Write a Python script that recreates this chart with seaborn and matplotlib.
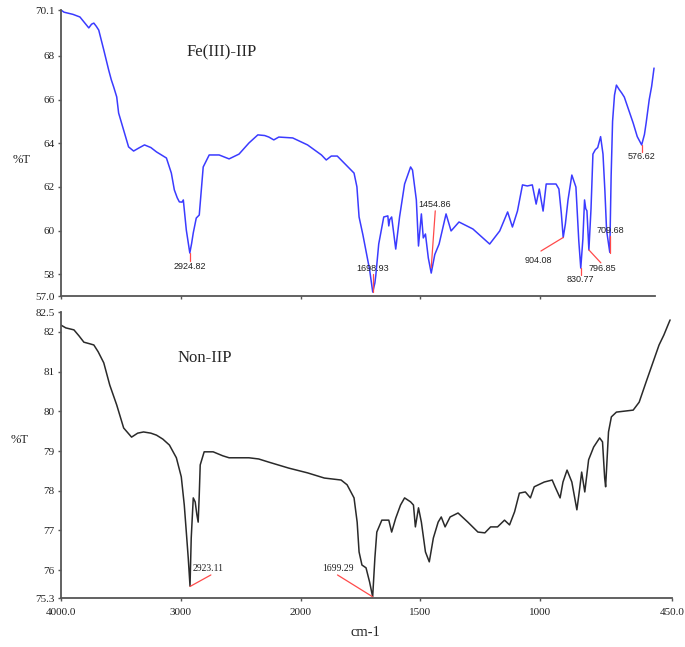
import numpy as np
import pandas as pd
import seaborn as sns
import matplotlib.pyplot as plt

# Fe(III)-IIP spectrum (wavenumber cm-1, %T)
top_wn = [4000, 3975, 3900, 3842, 3800, 3768, 3745, 3726, 3705, 3685, 3643, 3602, 3580, 3560,
          3535, 3519, 3477, 3436, 3394, 3350, 3303, 3250, 3203, 3120, 3079, 3054, 3030, 3012,
          2990, 2979, 2954, 2940, 2924.82, 2910, 2896, 2871, 2846, 2830, 2813, 2763, 2680, 2597,
          2514, 2431, 2357, 2300, 2265, 2224, 2182, 2066, 1971, 1913, 1893, 1872, 1847, 1810,
          1777, 1765, 1756, 1740, 1727, 1712, 1698.93, 1690, 1686, 1674, 1653, 1636, 1632, 1628,
          1620, 1603, 1587, 1566, 1541, 1533, 1517, 1508, 1496, 1488, 1479, 1467, 1454.86, 1440,
          1422, 1393, 1372, 1339, 1281, 1211, 1169, 1136, 1116, 1095, 1074, 1054, 1033, 1017,
          1004, 988, 975, 934, 922, 912, 904.08, 895, 884, 868, 851, 839, 830.77, 822, 815, 810,
          805, 796.85, 788, 780, 770, 760, 748, 738, 730, 723, 709.68, 704, 698, 690, 682, 670,
          660, 649, 630, 612, 595, 576.62, 565, 558, 545, 535, 525]
top_t = [70.1, 70.0, 69.9, 69.78, 69.5, 69.28, 69.45, 69.5, 69.35, 69.18, 68.27, 67.35, 66.9, 66.57,
         66.12, 65.38, 64.6, 63.83, 63.64, 63.78, 63.92, 63.8, 63.6, 63.32, 62.63, 61.86, 61.5, 61.31,
         61.3, 61.4, 60.02, 59.5, 58.97, 59.4, 59.89, 60.57, 60.71, 61.8, 62.91, 63.46, 63.46, 63.28,
         63.5, 64.01, 64.38, 64.35, 64.28, 64.15, 64.28, 64.24, 63.92, 63.46, 63.23, 63.41, 63.41, 63.0,
         62.63, 62.0, 60.62, 59.8, 59.06, 58.2, 57.18, 57.6, 57.96, 59.38, 60.62, 60.67, 60.21, 60.5,
         60.62, 59.15, 60.62, 62.13, 62.91, 62.77, 61.4, 59.29, 60.76, 59.66, 59.84, 58.74, 58.05, 58.9,
         59.38, 60.76, 59.98, 60.39, 60.07, 59.38, 59.98, 60.85, 60.16, 60.89, 62.09, 62.04, 62.09, 61.21,
         61.9, 60.89, 62.13, 62.13, 61.9, 60.8, 59.68, 60.3, 61.4, 62.54, 61.99, 59.52, 58.28, 59.6, 61.4, 61.0,
         60.9, 59.11, 61.0, 63.5, 63.7, 63.8, 64.3, 63.5, 61.8, 60.0, 59.0, 62.5, 65.0, 66.2, 66.66, 66.45,
         66.3, 66.11, 65.5, 64.92, 64.3, 63.92, 64.4, 64.92, 66.0, 66.6, 67.44]

# Non-IIP spectrum
bot_wn = [4000, 3960, 3892, 3850, 3809, 3760, 3726, 3690, 3643, 3593, 3535, 3477, 3411, 3360,
          3311, 3250, 3203, 3150, 3095, 3037, 2996, 2971, 2955, 2938, 2923.11, 2913, 2896, 2880,
          2866, 2855, 2846, 2838, 2805, 2730, 2650, 2597, 2431, 2350, 2265, 2099, 1971, 1901,
          1831, 1806, 1777, 1764, 1756, 1744, 1727, 1712, 1699.29, 1690, 1682, 1661, 1632, 1620,
          1603, 1583, 1566, 1541, 1529, 1521, 1508, 1496, 1479, 1463, 1446, 1426, 1413, 1397,
          1376, 1343, 1302, 1260, 1231, 1207, 1178, 1149, 1128, 1107, 1087, 1062, 1041, 1025,
          983, 950, 938, 917, 905, 888, 868, 847, 835, 827, 814, 798, 777, 752, 740, 731, 727,
          715, 703, 682, 612, 587, 558, 529, 504, 484, 467, 458]
bot_t = [82.17, 82.1, 82.05, 81.9, 81.74, 81.7, 81.67, 81.5, 81.22, 80.66, 80.16, 79.58, 79.35, 79.45,
         79.48, 79.45, 79.4, 79.3, 79.15, 78.83, 78.35, 77.64, 77.0, 76.31, 75.6, 76.81, 77.82, 77.72,
         77.4, 77.21, 77.9, 78.65, 78.98, 78.98, 78.88, 78.83, 78.83, 78.8, 78.72, 78.57, 78.45, 78.32,
         78.27, 78.15, 77.82, 77.21, 76.46, 76.13, 76.06, 75.7, 75.33, 76.31, 76.96, 77.26, 77.26, 76.96,
         77.31, 77.64, 77.82, 77.72, 77.64, 77.09, 77.57, 77.21, 76.46, 76.21, 76.81, 77.21, 77.34, 77.09,
         77.34, 77.44, 77.21, 76.96, 76.94, 77.09, 77.09, 77.26, 77.14, 77.47, 77.94, 77.97, 77.82, 78.1,
         78.22, 78.27, 78.1, 77.82, 78.22, 78.52, 78.22, 77.52, 78.07, 78.47, 77.97, 78.78, 79.1, 79.33,
         79.23, 78.32, 78.1, 79.48, 79.86, 79.98, 80.03, 80.23, 80.74, 81.24, 81.67, 81.92, 82.17, 82.3]

# peak labels: (text, peak x, peak y, label x, label y, leader end x, leader end y)
top_peaks = [("2924.82", 2924.82, 58.97, 2924.82, 58.36, 2924.82, 58.62),
             ("1698.93", 1698.93, 57.18, 1700, 58.28, 1698.93, 58.0),
             ("1454.86", 1454.86, 58.3, 1440, 61.17, 1438, 60.9),
             ("904.08", 904.08, 59.68, 1008, 58.63, 997, 59.06),
             ("830.77", 830.77, 58.28, 830.77, 57.75, 830.77, 57.95),
             ("796.85", 796.85, 59.11, 740, 58.26, 747, 58.52),
             ("709.68", 709.68, 58.98, 709, 59.99, 709.68, 59.75),
             ("576.62", 576.62, 63.92, 576.62, 63.38, 576.62, 63.6)]
bot_peaks = [("2923.11", 2923.11, 75.59, 2771, 76.05, 2749, 75.88),
             ("1699.29", 1699.29, 75.33, 1846, 76.05, 1846, 75.88)]

top_yticks = [57.0, 58, 60, 62, 64, 66, 68, 70.1]
top_ylabels = ["57.0", "58", "60", "62", "64", "66", "68", "70.1"]
bot_yticks = [75.3, 76, 77, 78, 79, 80, 81, 82, 82.5]
bot_ylabels = ["75.3", "76", "77", "78", "79", "80", "81", "82", "82.5"]
xticks = [4000, 3000, 2000, 1500, 1000, 450]
xlabels = ["4000.0", "3000", "2000", "1500", "1000", "450.0"]

sns.set_style("ticks")
plt.rcParams['font.family'] = ['Liberation Serif', 'DejaVu Serif']


# spectrometer style axis: half scale above 2000 cm-1
def fwd(x):
    x = np.asarray(x, dtype=float)
    return np.where(x > 2000, 2000 + (x - 2000) / 2, x)


def inv(y):
    y = np.asarray(y, dtype=float)
    return np.where(y > 2000, 2000 + (y - 2000) * 2, y)


fig = plt.figure(figsize=(6.85, 6.47), dpi=100)
left = 61 / 685
w_bot = 611 / 685
top_end = 522
w_top = w_bot * (fwd(4000) - fwd(top_end)) / (fwd(4000) - fwd(450))
ax1 = fig.add_axes([left, 1 - 296 / 647, w_top, 286 / 647])
ax2 = fig.add_axes([left, 1 - 598 / 647, w_bot, 286 / 647])

df_top = pd.DataFrame({"wn": top_wn, "T": top_t})
df_bot = pd.DataFrame({"wn": bot_wn, "T": bot_t})
sns.lineplot(data=df_top, x="wn", y="T", ax=ax1, color="#3b3bff", linewidth=1.1,
             estimator=None, sort=False)
sns.lineplot(data=df_bot, x="wn", y="T", ax=ax2, color="#2a2a2a", linewidth=1.1,
             estimator=None, sort=False)

for ax, peaks, fam, fs in [(ax1, top_peaks, 'Liberation Sans', 6.5),
                           (ax2, bot_peaks, 'Liberation Serif', 7)]:
    for lab, px, py, tx, ty, ex, ey in peaks:
        ax.plot([px, ex], [py, ey], color="#ff4a4a", lw=0.9)
        ax.text(tx, ty, lab, ha="center", va="center", fontsize=fs, family=fam,
                color="#222222")

for ax, xmin, yt, yl in [(ax1, top_end, top_yticks, top_ylabels),
                         (ax2, 450, bot_yticks, bot_ylabels)]:
    ax.set_xscale('function', functions=(fwd, inv))
    ax.set_xlim(4000, xmin)
    ax.set_ylim(yt[0], yt[-1])
    ax.set_yticks(yt)
    ax.set_yticklabels(yl)
    ax.set_xlabel("")
    ax.set_ylabel("")
    sns.despine(ax=ax)
    for s in ["left", "bottom"]:
        ax.spines[s].set_color("#555555")
        ax.spines[s].set_linewidth(1.3)
    ax.tick_params(length=2.5, width=1, color="#555555", labelsize=8,
                   labelcolor="#222222", pad=2)
    ax.minorticks_off()

ax1.set_xticks([t for t in xticks if t >= top_end])
ax1.set_xticklabels([])
ax2.set_xticks(xticks)
ax2.set_xticklabels(xlabels)
ax2.tick_params(axis="x", pad=5)

ax1.text(0.27, 0.853, "Fe(III)-IIP", transform=ax1.transAxes, ha="center",
         va="center", fontsize=12)
ax2.text(0.236, 0.839, "Non-IIP", transform=ax2.transAxes, ha="center",
         va="center", fontsize=12)
fig.text(22 / 685, 1 - 160 / 647, "%T", ha="center", va="center", fontsize=9)
fig.text(20 / 685, 1 - 440 / 647, "%T", ha="center", va="center", fontsize=9)
fig.text(365 / 685, 1 - 632 / 647, "cm-1", ha="center", va="center", fontsize=10.5)

fig.savefig("out.png", dpi=100)
